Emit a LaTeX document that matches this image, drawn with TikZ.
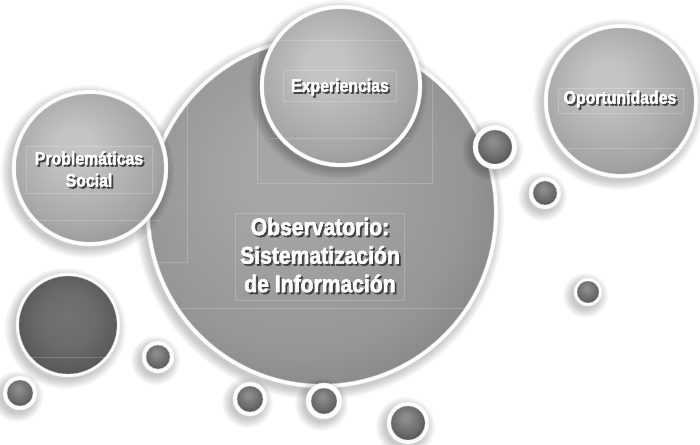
\documentclass[tikz,border=0pt]{standalone}
\usepackage{fontspec}
\newfontfamily\condfont[FakeStretch=0.88,FakeBold=2.5]{Liberation Sans Bold}
\definecolor{lA}{HTML}{C4C4C6}
\definecolor{lB}{HTML}{A4A4A6}
\definecolor{lC}{HTML}{8C8C8E}
\definecolor{mA}{HTML}{A6A6A8}
\definecolor{mB}{HTML}{969698}
\definecolor{mC}{HTML}{838385}
\definecolor{dA}{HTML}{8C8C8E}
\definecolor{dB}{HTML}{69696B}
\definecolor{dC}{HTML}{4A4A4C}
\definecolor{gA}{HTML}{737376}
\definecolor{gB}{HTML}{6B6B6E}
\definecolor{gC}{HTML}{58585B}
\definecolor{txtsh}{HTML}{404042}
\pgfdeclareradialshading{lightbub}{\pgfpoint{-6bp}{8bp}}{color(0bp)=(lA); color(6bp)=(lA); color(26bp)=(lB); color(33bp)=(lC); color(50bp)=(lC)}
\pgfdeclareradialshading{mainbub}{\pgfpoint{-6bp}{7bp}}{color(0bp)=(mA); color(6bp)=(mA); color(24bp)=(mB); color(32bp)=(mC); color(50bp)=(mC)}
\pgfdeclareradialshading{darkbub}{\pgfpoint{-4bp}{9bp}}{color(0bp)=(dA); color(4bp)=(dA); color(22bp)=(dB); color(32bp)=(dC); color(50bp)=(dC)}
\pgfdeclareradialshading{greybub}{\pgfpoint{0bp}{4bp}}{color(0bp)=(gA); color(14bp)=(gB); color(27bp)=(gC); color(50bp)=(gC)}
% name, x, y, radius, shading, rim
\newcommand\mybub[6]{%
  \foreach \k in {0,...,6}{\fill[black,opacity=0.032] (#2-2.5,#3+3.5) circle [radius={(#4+#6+\k*1.4)*1pt}];}
  \fill[white] (#2,#3) circle [radius={(#4+#6)*1pt}];
  \draw[gray!15,line width=0.4pt] (#2,#3) circle [radius={(#4+#6)*1pt}];
  \node[circle,inner sep=0pt,minimum size={2*#4*1pt},shading=#5,draw=gray!45,line width=0.3pt] (#1) at (#2,#3) {};
}
\newcommand\shl[1]{\leavevmode\rlap{\kern1.8pt\raisebox{-1.8pt}{\textcolor{txtsh}{#1}}}#1}
\tikzset{
  lbl/.style={align=center,text=white},
  faint/.style={draw=white,opacity=0.2,line width=0.5pt}
}
\begin{document}
\begin{tikzpicture}[x=1pt,y=-1pt]
\useasboundingbox (0,0) rectangle (700,444);
\fill[white] (0,0) rectangle (700,444);
% main circle first
\mybub{main}{322}{212}{172}{mainbub}{4}
\draw[faint] (235,213) rectangle (404,300);
\draw[faint] (160,308) -- (480,308);
\draw[faint] (257,45) rectangle (432,183);
\draw[faint] (187,100) -- (187,262) -- (150,262);
% other bubbles
\mybub{exper}{341}{86}{77}{lightbub}{4}
\draw[faint] (283,70) rectangle (396,101);
\draw[faint] (270,40) -- (418,40);
\draw[faint] (270,138) -- (410,138);
\mybub{probl}{90}{168}{74}{lightbub}{4}
\draw[faint] (26,146) rectangle (152,193);
\draw[faint] (20,220) -- (160,220);
\mybub{oport}{621}{101}{73}{lightbub}{4}
\draw[faint] (558,88) rectangle (683,113);
\draw[faint] (560,148) -- (690,148);
\mybub{darkbig}{68}{325}{49}{greybub}{3}
\draw[faint] (30,357) -- (118,357);
\mybub{sa}{495}{147}{17}{darkbub}{5}
\mybub{sb}{545}{193}{12}{darkbub}{4}
\mybub{sc}{588}{292}{11}{darkbub}{3}
\mybub{sd}{158}{357}{12}{darkbub}{4}
\mybub{se}{20}{393}{13}{darkbub}{4}
\mybub{sf}{250}{399}{13}{darkbub}{4}
\mybub{sg}{324}{401}{13}{darkbub}{5}
\mybub{sh}{408}{423}{17}{darkbub}{4}
% labels
\node[lbl,font=\condfont\fontsize{24}{28.5}\selectfont] (obs) at (320,256) {\shl{Observatorio:}\\\shl{Sistematización}\\\shl{de Información}};
\node[lbl,font=\condfont\fontsize{18}{22}\selectfont] (exp) at (340,88) {\shl{Experiencias}};
\node[lbl,font=\condfont\fontsize{18}{22}\selectfont] (prob) at (89,170) {\shl{Problemáticas}\\\shl{Social}};
\node[lbl,font=\condfont\fontsize{18}{22}\selectfont] (opo) at (620,100) {\shl{Oportunidades}};
\end{tikzpicture}
\end{document}
